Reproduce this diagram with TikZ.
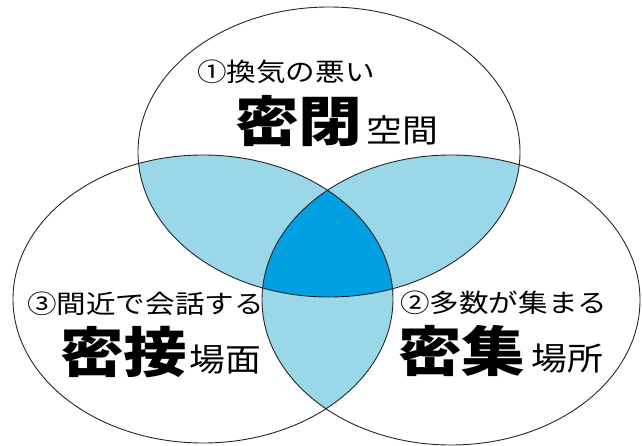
\documentclass[tikz,border=0pt]{standalone}
\usepackage{fontspec}
\usepackage{graphicx}
\newfontfamily\cjk{Noto Sans CJK JP}
\definecolor{lightblue}{RGB}{154,215,232}
\definecolor{darkblue}{RGB}{0,160,226}
\newcommand{\stretchtxt}[2]{\scalebox{#1}[1]{#2}}
\begin{document}
\begin{tikzpicture}[x=1pt,y=-1pt,
  ring/.style={draw=black!85,line width=0.9pt},
  lbl/.style={inner sep=0pt,anchor=west,font=\cjk},
  smalltxt/.style={lbl,font=\cjk\fontsize{25.5}{25.5}\selectfont},
  bigtxt/.style={lbl,font=\cjk\bfseries\fontsize{54}{54}\selectfont},
  midtxt/.style={lbl,font=\cjk\fontsize{32}{32}\selectfont}]
\useasboundingbox (0,0) rectangle (642,446);
\def\topE{(329,152) ellipse [x radius=191,y radius=145]}
\def\leftE{(203,299) ellipse [x radius=190,y radius=144]}
\def\rightE{(451,300) ellipse [x radius=189,y radius=145]}
% pairwise overlaps
\begin{scope}\clip \topE; \fill[lightblue] \leftE;\end{scope}
\begin{scope}\clip \topE; \fill[lightblue] \rightE;\end{scope}
\begin{scope}\clip \leftE; \fill[lightblue] \rightE;\end{scope}
% triple overlap
\begin{scope}\clip \topE; \clip \leftE; \fill[darkblue] \rightE;\end{scope}
% outlines
\draw[ring] \topE;
\draw[ring] \leftE;
\draw[ring] \rightE;
% texts
\node[smalltxt] (t1) at (197,72) {\stretchtxt{1.16}{①換気の悪い}};
\node[bigtxt] (t1big) at (235,121) {\stretchtxt{1.18}{密閉}};
\node[midtxt] (t1mid) at (366,130) {\stretchtxt{1.12}{空間}};
\node[smalltxt] (t3) at (27,304) {\stretchtxt{1.16}{③間近で会話する}};
\node[bigtxt] (t3big) at (60,352) {\stretchtxt{1.18}{密接}};
\node[midtxt] (t3mid) at (189,360) {\stretchtxt{1.12}{場面}};
\node[smalltxt] (t2) at (400,303) {\stretchtxt{1.16}{②多数が集まる}};
\node[bigtxt] (t2big) at (398,351) {\stretchtxt{1.18}{密集}};
\node[midtxt] (t2mid) at (531,359) {\stretchtxt{1.12}{場所}};
\end{tikzpicture}
\end{document}
